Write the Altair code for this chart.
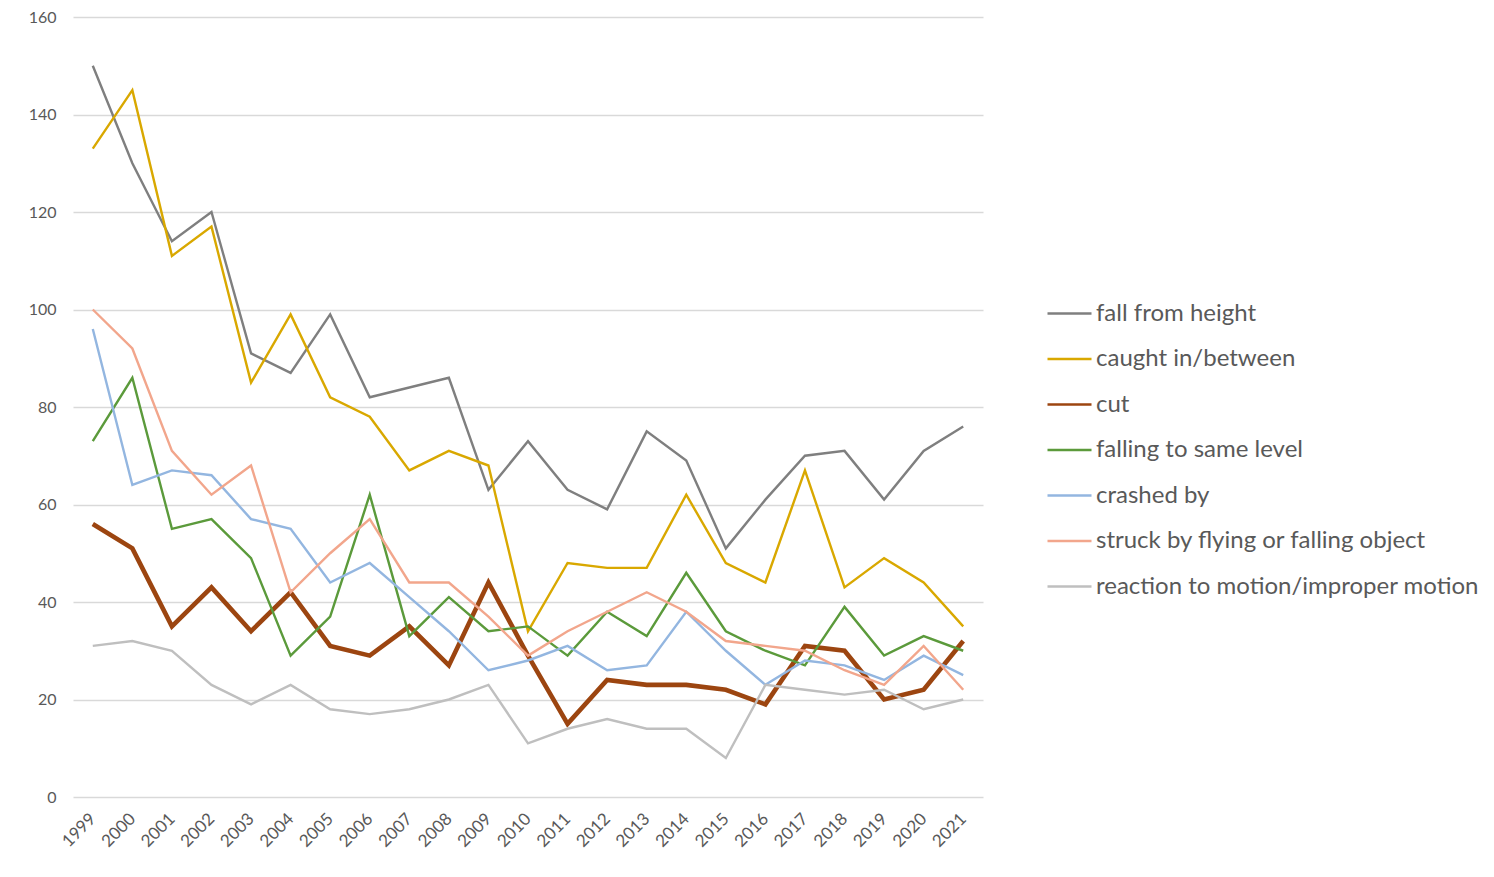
import altair as alt
import pandas as pd

years = [str(y) for y in range(1999, 2022)]

series_names = [
    "fall from height",
    "caught in/between",
    "cut",
    "falling to same level",
    "crashed by",
    "struck by flying or falling object",
    "reaction to motion/improper motion",
]

fall_from_height = [150, 130, 114, 120, 91, 87, 99, 82, 84, 86, 63, 73, 63, 59, 75, 69, 51, 61, 70, 71, 61, 71, 76]
caught_in_between = [133, 145, 111, 117, 85, 99, 82, 78, 67, 71, 68, 34, 48, 47, 47, 62, 48, 44, 67, 43, 49, 44, 35]
cut = [56, 51, 35, 43, 34, 42, 31, 29, 35, 27, 44, 29, 15, 24, 23, 23, 22, 19, 31, 30, 20, 22, 32]
falling_same_level = [73, 86, 55, 57, 49, 29, 37, 62, 33, 41, 34, 35, 29, 38, 33, 46, 34, 30, 27, 39, 29, 33, 30]
crashed_by = [96, 64, 67, 66, 57, 55, 44, 48, 41, 34, 26, 28, 31, 26, 27, 38, 30, 23, 28, 27, 24, 29, 25]
struck_by = [100, 92, 71, 62, 68, 42, 50, 57, 44, 44, 37, 29, 34, 38, 42, 38, 32, 31, 30, 26, 23, 31, 22]
reaction = [31, 32, 30, 23, 19, 23, 18, 17, 18, 20, 23, 11, 14, 16, 14, 14, 8, 23, 22, 21, 22, 18, 20]

colors = ["#7f7f7f", "#d9a800", "#9c4510", "#5b9a3b", "#93b6e0", "#f2a68c", "#bfbfbf"]
widths = [2.4, 2.4, 4.6, 2.4, 2.4, 2.4, 2.4]

all_values = [fall_from_height, caught_in_between, cut, falling_same_level,
              crashed_by, struck_by, reaction]

rows = []
for i, (name, vals) in enumerate(zip(series_names, all_values)):
    for y, v in zip(years, vals):
        rows.append({"year": y, "value": v, "series": name, "order": i, "w": widths[i]})
df = pd.DataFrame(rows)

FONT = "Lato"

chart = alt.Chart(df).mark_line(strokeJoin="miter", strokeCap="butt").encode(
    x=alt.X("year:O", title=None, sort=years,
            scale=alt.Scale(paddingOuter=0.5),
            axis=alt.Axis(labelAngle=-45, labelFontSize=17, labelColor="#595959",
                          labelFont=FONT, ticks=False, domain=False, labelPadding=19,
                          labelAlign="right", labelBaseline="middle")),
    y=alt.Y("value:Q", title=None,
            scale=alt.Scale(domain=[0, 160], nice=False),
            axis=alt.Axis(values=list(range(0, 161, 20)), labelFontSize=16,
                          labelColor="#595959", labelFont=FONT, ticks=False,
                          domain=False, labelPadding=17, gridColor="#d9d9d9",
                          gridWidth=1.5)),
    color=alt.Color("series:N", sort=series_names,
                    scale=alt.Scale(domain=series_names, range=colors),
                    legend=alt.Legend(title=None, orient="none", legendX=973, legendY=273,
                                      symbolType="stroke", symbolSize=1936,
                                      symbolStrokeWidth=2.6,
                                      labelFontSize=24, labelFont=FONT,
                                      labelColor="#595959", labelOffset=3,
                                      rowPadding=9.5, labelLimit=600)),
    strokeWidth=alt.StrokeWidth("w:Q", scale=None),
    order=alt.Order("order:Q"),
).properties(
    width=910, height=780,
    padding={"left": 65, "top": 9, "right": 500, "bottom": 72},
    autosize=alt.AutoSizeParams(type="none"),
).configure(background="white").configure_view(stroke=None)

chart.save("out.html", embed_options={"renderer": "svg", "actions": False})
